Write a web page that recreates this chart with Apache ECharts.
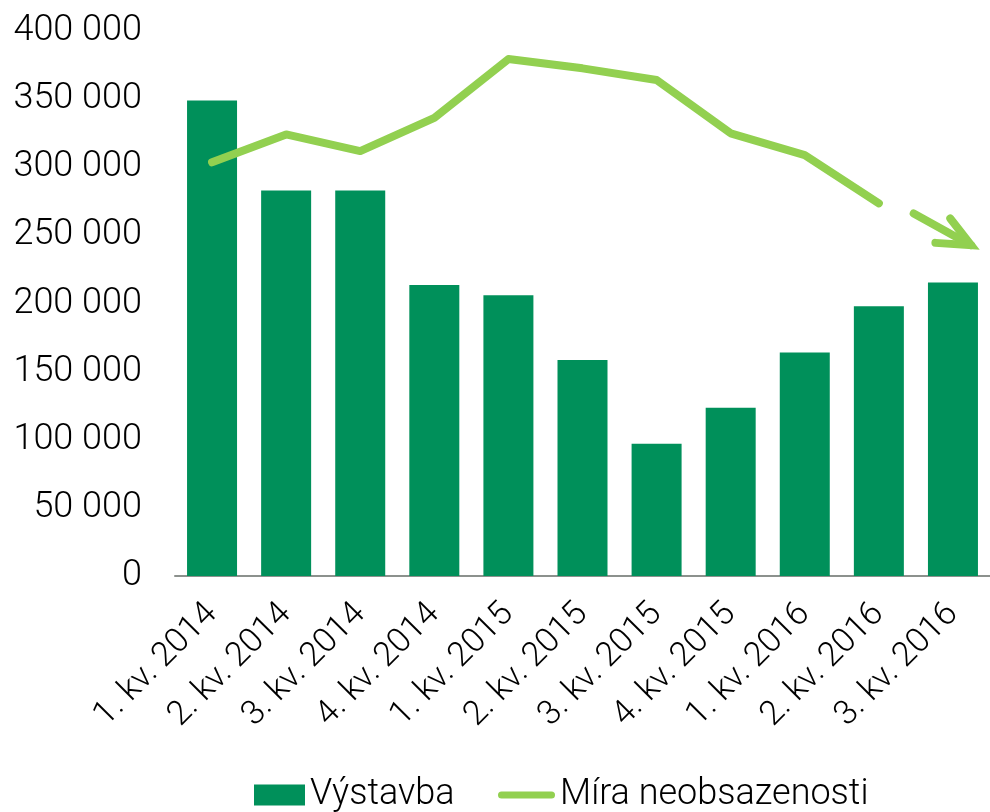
<!DOCTYPE html>
<html>
<head>
<meta charset="utf-8">
<script src="https://cdn.jsdelivr.net/npm/echarts@6/dist/echarts.min.js"></script>
<style>
html,body{margin:0;padding:0;background:#fff;}
#chart{width:990px;height:812px;}
</style>
</head>
<body>
<div id="chart"></div>
<script>
const categories = ['1. kv. 2014','2. kv. 2014','3. kv. 2014','4. kv. 2014','1. kv. 2015','2. kv. 2015','3. kv. 2015','4. kv. 2015','1. kv. 2016','2. kv. 2016','3. kv. 2016'];
const vystavba = [349000, 283000, 283000, 213500, 206000, 158500, 97000, 123500, 164000, 198000, 215500];
const miraNeobsazenosti = [303600, 324100, 311900, 336300, 379400, 372600, 364000, 324900, 308900, 273500, null];
// trend arrow (x in category index units, y in axis units)
const arrowShaft = [[9.47, 266100], [10.245, 242800]];
const arrowHead = [[9.964, 262400], [10.245, 242800], [9.763, 244500]];
const yTicks = [0, 50000, 100000, 150000, 200000, 250000, 300000, 350000, 400000];

const FONT = 'Roboto';
const WEIGHT = 300;
const BAR = '#00905A';
const LINE = '#92D050';

function fmt(v){ return String(v).replace(/\B(?=(\d{3})+(?!\d))/g, ' '); }

const chart = echarts.init(document.getElementById('chart'), null, {renderer:'canvas'});
chart.setOption({
  animation: false,
  backgroundColor: '#fff',
  textStyle: {fontFamily: FONT},
  grid: {left: 175, right: -5, top: 31, bottom: 236, containLabel: false},
  legend: [{
    data: [{name: 'Výstavba', icon: 'rect'}],
    left: 254, top: 777, padding: 0,
    itemWidth: 51, itemHeight: 21,
    textStyle: {fontFamily: FONT, fontWeight: WEIGHT, fontSize: 36, color: '#000'}
  }, {
    data: [{name: 'Míra neobsazenosti', icon: 'path://M3.5,0 H53.5 A3.5,3.5 0 0 1 53.5,7 H3.5 A3.5,3.5 0 0 1 3.5,0 Z'}],
    left: 498, top: 777, padding: 0,
    itemWidth: 57, itemHeight: 7,
    textStyle: {fontFamily: FONT, fontWeight: WEIGHT, fontSize: 36, color: '#000'}
  }],
  xAxis: [{
    type: 'category',
    data: categories,
    boundaryGap: true,
    axisLine: {show: true, lineStyle: {color: '#8C918D', width: 2}},
    axisTick: {show: false},
    axisLabel: {rotate: 45, margin: 33, fontSize: 34, fontWeight: WEIGHT, color: '#000', fontFamily: FONT, interval: 0}
  }, {
    type: 'value', min: -0.5, max: 10.5, show: false
  }],
  yAxis: {
    type: 'value',
    min: yTicks[0], max: yTicks[yTicks.length-1], interval: 50000,
    splitLine: {show: false},
    axisLine: {show: false},
    axisTick: {show: false},
    axisLabel: {margin: 33, fontSize: 36, fontWeight: WEIGHT, color: '#000', fontFamily: FONT, formatter: fmt}
  },
  series: [{
    name: 'Výstavba',
    type: 'bar',
    data: vystavba,
    barWidth: 50,
    itemStyle: {color: BAR},
    z: 2
  }, {
    name: 'Míra neobsazenosti',
    type: 'line',
    data: miraNeobsazenosti,
    symbol: 'none',
    connectNulls: false,
    lineStyle: {color: LINE, width: 8, cap: 'round', join: 'round'},
    itemStyle: {color: LINE},
    z: 3
  }, {
    name: 'arrowShaft',
    type: 'line',
    xAxisIndex: 1,
    data: arrowShaft,
    symbol: 'none',
    lineStyle: {color: LINE, width: 8, cap: 'round', join: 'round'},
    z: 3,
    silent: true
  }, {
    name: 'arrowHead',
    type: 'line',
    xAxisIndex: 1,
    data: arrowHead,
    symbol: 'none',
    lineStyle: {color: LINE, width: 8, cap: 'round', join: 'miter'},
    z: 3,
    silent: true
  }]
});
</script>
</body>
</html>
